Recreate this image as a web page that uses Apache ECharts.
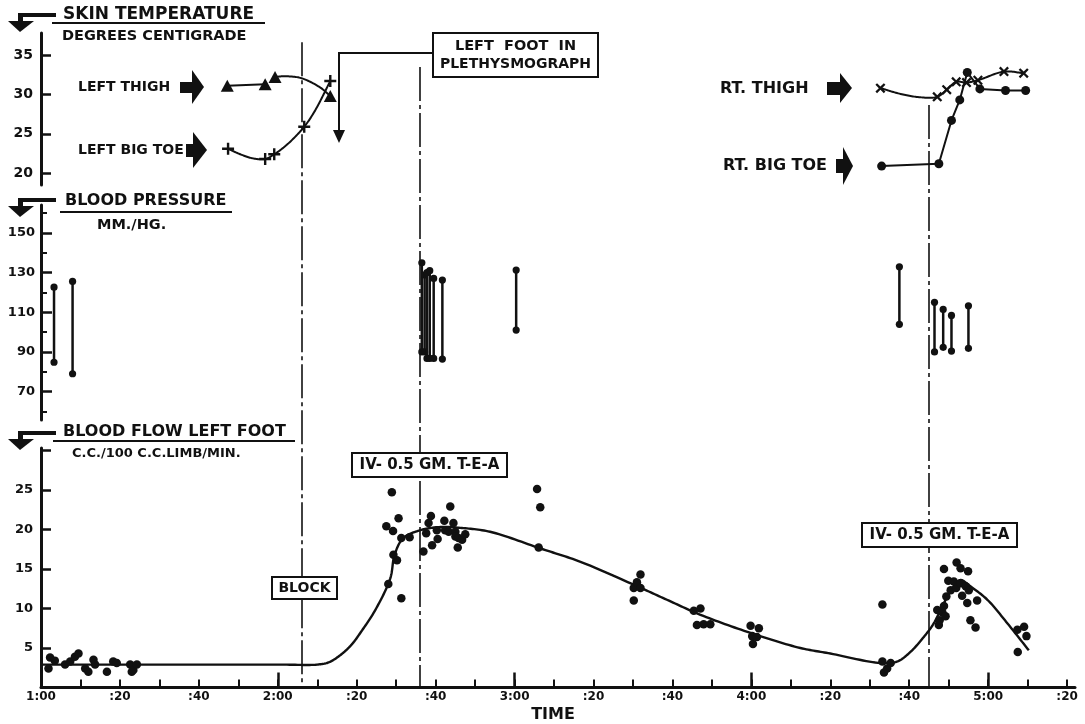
<!DOCTYPE html>
<html><head><meta charset="utf-8">
<script src="https://cdn.jsdelivr.net/npm/echarts@6/dist/echarts.min.js"></script>
<style>html,body{margin:0;padding:0;background:#fff}#c{width:1085px;height:724px}</style>
</head><body><div id="c"></div>
<script>
// ---------- time axis (minutes after 1:00) ----------
const xTickMinutes = [10,20,30,40,50,60,70,80,90,100,110,120,130,140,150,160,170,180,190,200,210,220,230,240,250,260];
const xHourTicks = [60,120,180,240];
const xLabelMinutes = [0,20,40,60,80,100,120,140,160,180,200,220,240,260];
const xLabelText = ['1:00',':20',':40','2:00',':20',':40','3:00',':20',':40','4:00',':20',':40','5:00',':20'];

// ---------- y ticks ----------
const tempTicks = [20,25,30,35];
const bpMajorTicks = [70,90,110,130,150];
const bpMinorTicks = [60,80,100,120,140,160];
const flowTicks = [5,10,15,20,25,30];
const flowLabels = [5,10,15,20,25];

// ---------- skin temperature ----------
const leftThighTime = [47.2, 56.8, 59.3, 73.3];
const leftThighTemp = [31.1, 31.3, 32.2, 29.8];
const leftThighArcTime = [59.3, 61.1, 65.7, 70.7, 73.3];
const leftThighArcTemp = [32.2, 32.3, 32.1, 30.9, 29.8];
const leftToeTime = [47.4, 56.8, 59.1, 66.7, 73.3];
const leftToeTemp = [23.1, 21.8, 22.4, 25.9, 31.7];
const leftToeCurveTime = [47.4, 50.5, 53.5, 56.8, 59.1, 62.5, 66.7, 69.5, 73.3];
const leftToeCurveTemp = [23.1, 22.4, 21.9, 21.8, 22.4, 23.7, 25.9, 28.0, 31.7];
const rtThighTime = [212.7, 227.1, 229.5, 231.9, 234.5, 237.4, 244.0, 249.0];
const rtThighTemp = [30.8, 29.7, 30.6, 31.6, 31.5, 31.8, 32.9, 32.7];
const rtThighCurveTime = [212.7, 217.5, 222.5, 227.1, 229.5, 231.9, 234.5, 237.4, 244.0, 249.0];
const rtThighCurveTemp = [30.8, 30.1, 29.65, 29.7, 30.6, 31.6, 31.5, 31.8, 32.9, 32.7];
const rtToeTime = [213.0, 227.5, 230.7, 232.8, 234.7, 237.9, 244.4, 249.5];
const rtToeTemp = [20.9, 21.2, 26.7, 29.3, 32.8, 30.7, 30.5, 30.5];

// ---------- blood pressure ----------
const bpTime = [3.3, 8.0, 96.5, 97.2, 97.8, 98.5, 99.5, 101.7, 120.4, 217.5, 226.4, 228.6, 230.7, 235.0];
const bpSystolic = [122.6, 125.5, 134.9, 128.7, 130.0, 130.9, 127.0, 126.2, 131.2, 132.9, 115.0, 111.4, 108.4, 113.2];
const bpDiastolic = [84.8, 79.0, 90.0, 90.0, 86.7, 86.7, 86.7, 86.4, 101.0, 103.9, 90.0, 92.3, 90.4, 91.8];

// ---------- blood flow ----------
const flowTime = [1.9,2.3,3.5,6.1,7.4,8.6,9.5,11.2,12.0,13.3,13.7,16.7,18.3,19.2,22.6,23.0,23.4,24.3,
 87.5,88.0,88.9,89.2,89.3,90.2,90.6,91.3,91.3,93.4,
 96.9,97.6,98.2,98.8,99.1,100.3,100.5,102.2,102.4,103.3,103.7,104.5,105.0,105.0,105.6,105.8,106.7,107.5,
 125.7,126.1,126.5,
 150.2,150.2,151.0,151.9,151.9,
 165.4,166.2,167.1,167.9,169.6,
 179.8,180.2,180.4,181.4,181.9,
 213.2,213.2,213.6,214.4,215.3,
 227.1,227.5,227.7,228.4,228.8,228.8,229.2,229.4,229.9,230.5,231.3,231.9,232.0,233.0,233.0,233.4,234.3,234.7,234.9,235.1,235.5,236.8,237.2,
 247.4,247.5,249.1,249.7];
const flowValue = [2.4,3.8,3.4,2.9,3.3,3.9,4.3,2.4,2.0,3.5,2.9,2.0,3.3,3.1,2.9,2.0,2.2,2.9,
 20.4,13.1,24.7,19.8,16.8,16.1,21.4,18.9,11.3,19.0,
 17.2,19.5,20.8,21.7,18.0,19.9,18.8,21.1,19.9,19.7,22.9,20.8,19.7,19.1,17.7,18.9,18.7,19.4,
 25.1,17.7,22.8,
 12.6,11.0,13.3,14.3,12.6,
 9.7,7.9,10.0,8.0,8.0,
 7.8,6.5,5.5,6.4,7.5,
 10.5,3.3,1.9,2.4,3.1,
 9.8,7.9,8.5,9.5,15.0,10.3,9.0,11.5,13.5,12.3,13.4,12.6,15.8,15.1,13.2,11.6,12.8,10.7,14.7,12.3,8.5,7.6,11.0,
 7.3,4.5,7.7,6.5];
const curveTime = [0,30,60,70,73,76.6,79,80.9,84.7,88.5,89.6,91.8,96.1,101.2,106.2,113.8,126.5,136.7,150.2,158.6,167.1,179.8,192.4,200,212.7,217,220.3,223.7,226.2,228.8,231.3,233,235.5,239.8,244.9,250.3];
const curveValue = [2.9,2.9,2.9,2.9,3.2,4.4,5.6,6.9,9.8,13.8,16.8,18.9,19.9,20.3,20.2,19.7,17.6,15.9,13.0,11.1,9.2,6.9,5.0,4.3,3.1,3.3,4.5,6.4,8.1,10.7,12.8,13.6,12.8,11.1,8.1,4.7];

// ---------- event lines ----------
const eventTime = [66, 96, 225];
const eventTop = [0.986, 0.948, 0.89];

const zip = (a, b) => a.map((v, i) => [v, b[i]]);
const INK = '#111';
const FF = '"DejaVu Sans", sans-serif';
const plusPath = 'path://M4,0H6V4H10V6H6V10H4V6H0V4H4Z';
const xPath = 'path://M0,1.6L1.6,0L5,3.4L8.4,0L10,1.6L6.6,5L10,8.4L8.4,10L5,6.6L1.6,10L0,8.4L3.4,5Z';

// centripetal Catmull-Rom through pixel points, sampled into a polyline
function splinePoints(P) {
  const n = P.length, out = [];
  if (n < 3) return P.slice();
  const dist = (a, b) => Math.max(1e-6, Math.hypot(b[0] - a[0], b[1] - a[1]));
  for (let i = 0; i < n - 1; i++) {
    const p0 = P[Math.max(i - 1, 0)], p1 = P[i], p2 = P[i + 1], p3 = P[Math.min(i + 2, n - 1)];
    const d1 = i === 0 ? dist(p1, p2) : dist(p0, p1);
    const d2 = dist(p1, p2);
    const d3 = i === n - 2 ? dist(p1, p2) : dist(p2, p3);
    const a1 = Math.sqrt(d1), a2 = Math.sqrt(d2), a3 = Math.sqrt(d3);
    let b1, b2;
    if (i === 0) b1 = [p1[0] + (p2[0] - p1[0]) / 3, p1[1] + (p2[1] - p1[1]) / 3];
    else b1 = [0, 1].map(k => (d1 * p2[k] - d2 * p0[k] + (2 * d1 + 3 * a1 * a2 + d2) * p1[k]) / (3 * a1 * (a1 + a2)));
    if (i === n - 2) b2 = [p2[0] - (p2[0] - p1[0]) / 3, p2[1] - (p2[1] - p1[1]) / 3];
    else b2 = [0, 1].map(k => (d3 * p1[k] - d2 * p3[k] + (2 * d3 + 3 * a3 * a2 + d2) * p2[k]) / (3 * a3 * (a3 + a2)));
    const S = 16;
    for (let s = 0; s < S; s++) {
      const t = s / S, u = 1 - t;
      out.push([0, 1].map(k => u * u * u * p1[k] + 3 * u * u * t * b1[k] + 3 * u * t * t * b2[k] + t * t * t * p2[k]));
    }
  }
  out.push(P[n - 1]);
  return out;
}
function curveSeries(xi, yi, times, values, width) {
  return {type: 'custom', xAxisIndex: xi, yAxisIndex: yi, z: 3,
    data: zip(times, values),
    renderItem: (params, api) => {
      if (params.dataIndex !== 0) return null;
      const pts = times.map((t, i) => api.coord([t, values[i]]));
      return {type: 'polyline', shape: {points: splinePoints(pts)},
        style: {stroke: INK, lineWidth: width, fill: null, lineJoin: 'round'}};
    }};
}

const chart = echarts.init(document.getElementById('c'), null, {renderer: 'canvas'});
const L = 41, R = 10;
const grids = [
  {left: L, right: R, top: 33, height: 152, outerBoundsMode: 'none'},
  {left: L, right: R, top: 205, height: 215, outerBoundsMode: 'none'},
  {left: L, right: R, top: 448, height: 239.5, outerBoundsMode: 'none'},
  {left: L, right: R, top: 33, height: 654.5, outerBoundsMode: 'none'}
];
const xHidden = (g) => ({type: 'value', gridIndex: g, min: 0, max: 262, show: false});
const axisLineStyle = {show: true, lineStyle: {color: INK, width: 3}};

function yAxisBase(g, min, max) {
  return {type: 'value', gridIndex: g, position: 'left', min, max, splitLine: {show: false}, axisLine: axisLineStyle};
}
const lbl = (size) => ({color: INK, fontWeight: 'bold', fontSize: size, fontFamily: FF});

const option = {
  animation: false,
  backgroundColor: '#fff',
  grid: grids,
  xAxis: [
    xHidden(0), xHidden(1),
    {type: 'value', gridIndex: 2, position: 'bottom', min: 0, max: 262, splitLine: {show: false},
     axisLine: axisLineStyle,
     axisTick: {show: true, inside: true, length: 8, lineStyle: {color: INK, width: 2}, customValues: xTickMinutes},
     axisLabel: Object.assign(lbl(12), {margin: 3, customValues: xLabelMinutes,
       formatter: (v) => { const i = xLabelMinutes.indexOf(Math.round(v)); return i >= 0 ? xLabelText[i] : ''; }})},
    {type: 'value', gridIndex: 2, position: 'bottom', offset: 0, min: 0, max: 262, splitLine: {show: false},
     axisLine: {show: false},
     axisTick: {show: true, inside: true, length: 15, lineStyle: {color: INK, width: 2.5}, customValues: xHourTicks},
     axisLabel: {show: false}},
    xHidden(3)
  ],
  yAxis: [
    Object.assign(yAxisBase(0, 18.5, 37.8), {
      axisTick: {show: true, inside: true, length: 10, lineStyle: {color: INK, width: 2.5}, customValues: tempTicks},
      axisLabel: Object.assign(lbl(14), {margin: 8, customValues: tempTicks})}),
    Object.assign(yAxisBase(1, 55.7, 164), {
      axisTick: {show: true, inside: true, length: 11, lineStyle: {color: INK, width: 2.5}, customValues: bpMajorTicks},
      axisLabel: Object.assign(lbl(13), {margin: 6, customValues: bpMajorTicks})}),
    {type: 'value', gridIndex: 1, position: 'left', offset: 0, min: 55.7, max: 164, splitLine: {show: false}, axisLine: {show: false},
     axisTick: {show: true, inside: true, length: 6, lineStyle: {color: INK, width: 2}, customValues: bpMinorTicks},
     axisLabel: {show: false}},
    Object.assign(yAxisBase(2, 0, 30.3), {
      axisTick: {show: true, inside: true, length: 10, lineStyle: {color: INK, width: 2.5}, customValues: flowTicks},
      axisLabel: Object.assign(lbl(13), {margin: 8, customValues: flowLabels})}),
    {type: 'value', gridIndex: 3, min: 0, max: 1, show: false}
  ],
  series: [
    // event lines
    {type: 'lines', coordinateSystem: 'cartesian2d', xAxisIndex: 4, yAxisIndex: 4, z: 1,
     lineStyle: {color: INK, width: 1.6, type: [34, 4, 4, 4], opacity: 1},
     data: eventTime.map((t, i) => ({coords: [[t, eventTop[i]], [t, 0]]}))},
    // left thigh
    {type: 'line', xAxisIndex: 0, yAxisIndex: 0, symbol: 'none', lineStyle: {color: INK, width: 2},
     data: zip(leftThighTime.slice(0, 2), leftThighTemp.slice(0, 2))},
    curveSeries(0, 0, leftThighArcTime, leftThighArcTemp, 2),
    {type: 'scatter', xAxisIndex: 0, yAxisIndex: 0, z: 4, symbol: 'triangle', symbolSize: [13, 12], itemStyle: {color: INK, opacity: 1},
     data: zip(leftThighTime, leftThighTemp)},
    // left big toe
    curveSeries(0, 0, leftToeCurveTime, leftToeCurveTemp, 2),
    {type: 'scatter', xAxisIndex: 0, yAxisIndex: 0, z: 4, symbol: plusPath, symbolSize: 12, itemStyle: {color: INK, opacity: 1},
     data: zip(leftToeTime, leftToeTemp)},
    // right thigh
    curveSeries(0, 0, rtThighCurveTime, rtThighCurveTemp, 2),
    {type: 'scatter', xAxisIndex: 0, yAxisIndex: 0, z: 4, symbol: xPath, symbolSize: 10, itemStyle: {color: INK, opacity: 1},
     data: zip(rtThighTime, rtThighTemp)},
    // right big toe
    {type: 'line', xAxisIndex: 0, yAxisIndex: 0, symbol: 'circle', symbolSize: 9, showAllSymbol: true,
     lineStyle: {color: INK, width: 2}, itemStyle: {color: INK, opacity: 1},
     data: zip(rtToeTime, rtToeTemp)},
    // blood pressure
    {type: 'custom', xAxisIndex: 1, yAxisIndex: 1,
     encode: {x: 0, y: [1, 2]},
     data: bpTime.map((t, i) => [t, bpDiastolic[i], bpSystolic[i]]),
     renderItem: (params, api) => {
       const lo = api.coord([api.value(0), api.value(1)]);
       const hi = api.coord([api.value(0), api.value(2)]);
       return {type: 'group', children: [
         {type: 'line', shape: {x1: lo[0], y1: lo[1], x2: hi[0], y2: hi[1]}, style: {stroke: INK, lineWidth: 2.5}},
         {type: 'circle', shape: {cx: lo[0], cy: lo[1], r: 3.6}, style: {fill: INK}},
         {type: 'circle', shape: {cx: hi[0], cy: hi[1], r: 3.6}, style: {fill: INK}}
       ]};
     }},
    // blood flow curve & points
    curveSeries(2, 3, curveTime, curveValue, 2.4),
    {type: 'scatter', xAxisIndex: 2, yAxisIndex: 3, z: 4, symbol: 'circle', symbolSize: 8.5, itemStyle: {color: INK, opacity: 1},
     data: zip(flowTime, flowValue)}
  ]
};

// ---------- annotations ----------
const G = [];
function text(x, y, s, size, align) {
  G.push({type: 'text', x, y, z: 100, style: {text: s, fill: INK, fontSize: size, fontWeight: 'bold', fontFamily: FF,
    align: align || 'left', textAlign: align || 'left', verticalAlign: 'middle', textVerticalAlign: 'middle'}});
}
function box(x, y, w, h) {
  G.push({type: 'rect', z: 99, shape: {x, y, width: w, height: h}, style: {fill: '#fff', stroke: INK, lineWidth: 2}});
}
function seg(x1, y1, x2, y2, w) {
  G.push({type: 'line', z: 100, shape: {x1, y1, x2, y2}, style: {stroke: INK, lineWidth: w}});
}
function poly(points) {
  G.push({type: 'polygon', z: 100, shape: {points}, style: {fill: INK}});
}
function header(barY, ulY, ulX1, ulX2) {
  G.push({type: 'rect', z: 100, shape: {x: 19, y: barY - 2, width: 37, height: 4}, style: {fill: INK}});
  G.push({type: 'rect', z: 100, shape: {x: 18, y: barY - 2, width: 5, height: 9}, style: {fill: INK}});
  poly([[8, barY + 6], [34, barY + 6], [20, barY + 17]]);
  seg(ulX1, ulY, ulX2, ulY, 2);
}
function blockArrow(rx1, rx2, ry1, ry2, tx, ty1, ty2) {
  G.push({type: 'rect', z: 100, shape: {x: rx1, y: ry1, width: rx2 - rx1, height: ry2 - ry1}, style: {fill: INK}});
  poly([[rx2, ty1], [tx, (ty1 + ty2) / 2], [rx2, ty2]]);
}

header(15, 23, 52, 265);
text(63, 15, 'SKIN TEMPERATURE', 17);
text(62, 36, 'DEGREES CENTIGRADE', 14.5);
header(200, 212, 60, 232);
text(65, 201, 'BLOOD PRESSURE', 16);
text(97, 225, 'MM./HG.', 14.5);
header(433, 441, 53, 295);
text(63, 432, 'BLOOD FLOW LEFT FOOT', 16);
text(72, 454, 'C.C./100 C.C.LIMB/MIN.', 13);
text(553, 715, 'TIME', 16, 'center');

text(78, 87, 'LEFT THIGH', 14);
blockArrow(180, 192, 82, 93, 204, 70, 104);
text(78, 150, 'LEFT BIG TOE', 14);
blockArrow(186, 193, 144, 157, 207, 132, 168);
text(720, 89, 'RT. THIGH', 16);
blockArrow(827, 840, 82, 95, 852, 73, 103);
text(723, 166, 'RT. BIG TOE', 16);
blockArrow(836, 843, 159, 173, 853, 147, 185);

// plethysmograph box and arrow
box(433, 33, 165, 44);
text(515.5, 46, 'LEFT  FOOT  IN', 14.5, 'center');
text(515.5, 64, 'PLETHYSMOGRAPH', 14, 'center');
seg(433, 53, 339, 53, 2);
seg(339, 52, 339, 132, 2);
poly([[333, 130], [345, 130], [339, 143]]);

// BLOCK and T-E-A boxes
box(272, 577, 65, 22);
text(304.5, 588.5, 'BLOCK', 14, 'center');
box(352, 453, 155, 24);
text(429.5, 465.5, 'IV- 0.5 GM. T-E-A', 15, 'center');
box(862, 523, 155, 24);
text(939.5, 535.5, 'IV- 0.5 GM. T-E-A', 15, 'center');

option.graphic = {elements: G};
chart.setOption(option);
</script></body></html>
